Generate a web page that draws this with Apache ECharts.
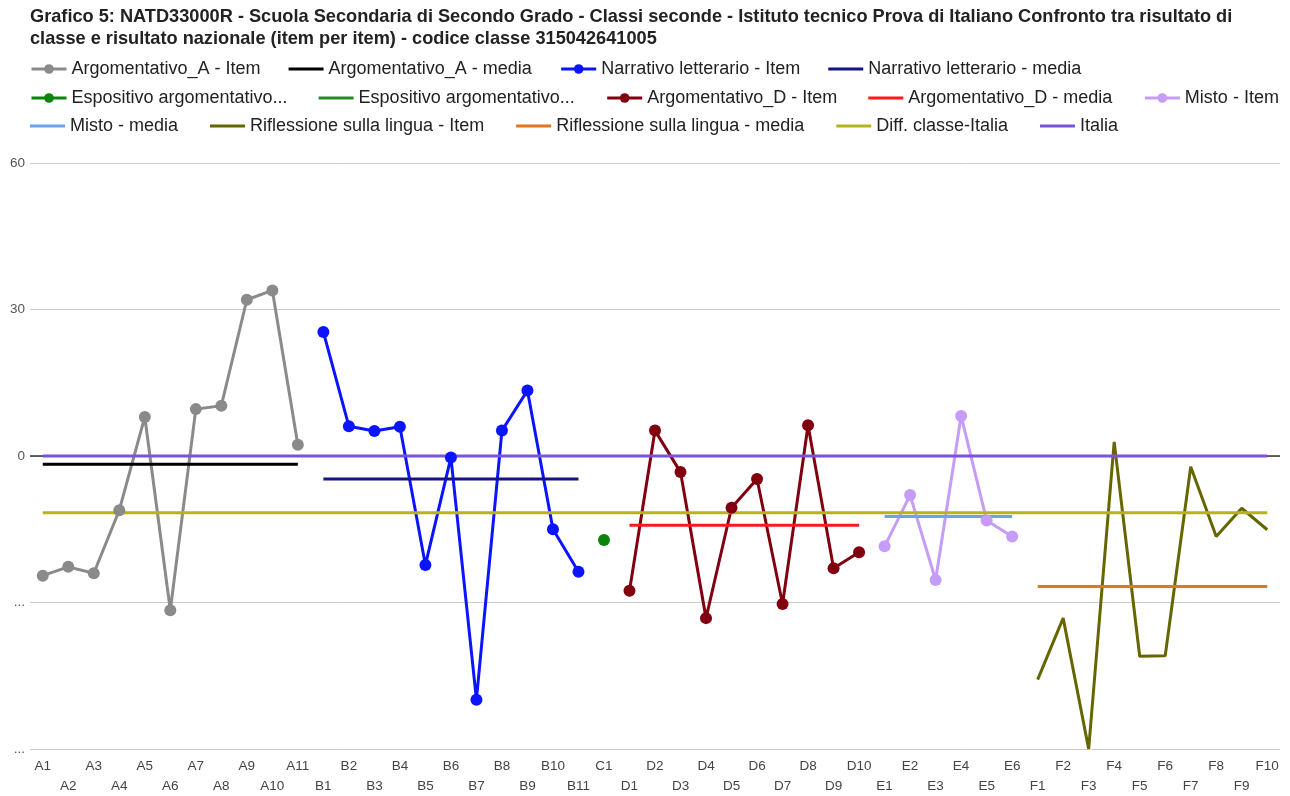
<!DOCTYPE html>
<html>
<head>
<meta charset="utf-8">
<script src="https://cdn.jsdelivr.net/npm/echarts@6/dist/echarts.min.js"></script>
<style>html,body{margin:0;padding:0;background:#fff}#c{width:1290px;height:796px}</style>
</head>
<body>
<div id="c"></div>
<script>
const titleText = 'Grafico 5: NATD33000R - Scuola Secondaria di Secondo Grado - Classi seconde - Istituto tecnico Prova di Italiano Confronto tra risultato di\nclasse e risultato nazionale (item per item) - codice classe 315042641005';

const categories = ['A1','A2','A3','A4','A5','A6','A7','A8','A9','A10','A11',
  'B1','B2','B3','B4','B5','B6','B7','B8','B9','B10','B11',
  'C1',
  'D1','D2','D3','D4','D5','D6','D7','D8','D9','D10',
  'E1','E2','E3','E4','E5','E6',
  'F1','F2','F3','F4','F5','F6','F7','F8','F9','F10'];

const yTicks = [-60, -30, 0, 30, 60];

const argA_item  = [-24.5, -22.7, -24.0, -11.1, 8.0, -31.6, 9.6, 10.3, 32.0, 33.9, 2.3];
const argA_mean  = -1.7;
const narr_item  = [25.4, 6.1, 5.1, 6.0, -22.3, -0.3, -49.9, 5.2, 13.4, -15.0, -23.7];
const narr_mean  = -4.7;
const espo_item  = [-17.2];
const espo_mean  = -17.2;
const argD_item  = [-27.6, 5.2, -3.3, -33.2, -10.6, -4.7, -30.3, 6.3, -23.0, -19.7];
const argD_mean  = -14.2;
const misto_item = [-18.5, -8.0, -25.4, 8.2, -13.2, -16.5];
const misto_mean = -12.4;
const rifl_item  = [-45.8, -33.2, -60.0, 2.9, -41.0, -40.9, -2.2, -16.5, -10.7, -15.1];
const rifl_mean  = -26.7;
const diff_classe_italia = -11.6;
const italia = 0;

const N = categories.length;
function startOf(prefix){ return categories.findIndex(c => c.startsWith(prefix)); }
function place(arr, prefix){
  const out = new Array(N).fill(null);
  const s = startOf(prefix);
  arr.forEach((v,i)=>{ out[s+i] = v; });
  return out;
}
function flat(v, prefix, len){
  const out = new Array(N).fill(null);
  const s = prefix ? startOf(prefix) : 0;
  const l = len == null ? N : len;
  for (let i = 0; i < l; i++) out[s+i] = v;
  return out;
}

const W = 3;
function itemSeries(name, data, color, withSymbol){
  return {
    name, type: 'line', data, color,
    symbol: withSymbol ? 'circle' : 'none', symbolSize: 12, showSymbol: withSymbol,
    lineStyle: { width: W, color }, itemStyle: { color },
    connectNulls: false, animation: false, z: 3
  };
}
function meanSeries(name, data, color){
  return {
    name, type: 'line', data, color, symbol: 'none',
    lineStyle: { width: W, color }, itemStyle: { color },
    animation: false, z: 3
  };
}

const series = [
  {
    name: '__baseline', type: 'line', data: [], z: 1, silent: true,
    markLine: {
      z: 1, silent: true, symbol: 'none', label: { show: false }, animation: false,
      lineStyle: { color: '#333', width: 1.5, type: 'solid' },
      data: [{ yAxis: 0 }]
    }
  },
  itemSeries('Argomentativo_A - Item', place(argA_item,'A'), '#8a8a8a', true),
  meanSeries('Argomentativo_A - media', flat(argA_mean,'A',argA_item.length), '#000000'),
  itemSeries('Narrativo letterario - Item', place(narr_item,'B'), '#0a14ff', true),
  meanSeries('Narrativo letterario - media', flat(narr_mean,'B',narr_item.length), '#141482'),
  itemSeries('Espositivo argomentativo - Item', place(espo_item,'C'), '#0a850a', true),
  meanSeries('Espositivo argomentativo - media', flat(espo_mean,'C',espo_item.length), '#268a26'),
  itemSeries('Argomentativo_D - Item', place(argD_item,'D'), '#800010', true),
  meanSeries('Argomentativo_D - media', flat(argD_mean,'D',argD_item.length), '#ff1a1a'),
  itemSeries('Misto - Item', place(misto_item,'E'), '#c59cf7', true),
  meanSeries('Misto - media', flat(misto_mean,'E',misto_item.length), '#6aa4e8'),
  itemSeries('Riflessione sulla lingua - Item', place(rifl_item,'F'), '#666600', false),
  meanSeries('Riflessione sulla lingua - media', flat(rifl_mean,'F',rifl_item.length), '#e4761e'),
  meanSeries('Diff. classe-Italia', flat(diff_classe_italia), '#b5b51a'),
  meanSeries('Italia', flat(italia), '#7a52dc')
];

const lineIcon = 'path://M0,0L0.01,0M0,4.5L35,4.5L35,7.5L0,7.5ZM35,12L34.99,12';
const lineOnly = new Set(series.filter(s => s.symbol === 'none').map(s => s.name));

const rows = [
  ['Argomentativo_A - Item','Argomentativo_A - media','Narrativo letterario - Item','Narrativo letterario - media'],
  ['Espositivo argomentativo - Item','Espositivo argomentativo - media','Argomentativo_D - Item','Argomentativo_D - media','Misto - Item'],
  ['Misto - media','Riflessione sulla lingua - Item','Riflessione sulla lingua - media','Diff. classe-Italia','Italia']
];
const rowTops = [55, 84, 112];
const rowGaps = [28, 31, 32];
const legends = rows.map((r, i) => ({
  data: r.map(n => lineOnly.has(n) ? { name: n, icon: lineIcon } : { name: n }),
  left: 25, top: rowTops[i], orient: 'horizontal',
  itemWidth: 35, itemHeight: 12, itemGap: rowGaps[i],
  selectedMode: false,
  lineStyle: { width: 3 },
  textStyle: { fontSize: 18, color: '#222', fontFamily: 'Liberation Sans, Arial, sans-serif', lineHeight: 18 },
  formatter: n => n.startsWith('Espositivo') ? 'Espositivo argomentativo...' : n
}));

const chart = echarts.init(document.getElementById('c'), null, { renderer: 'canvas' });
chart.setOption({
  animation: false,
  backgroundColor: '#ffffff',
  title: {
    text: titleText, left: 25, top: 1,
    textStyle: { fontSize: 18.2, fontWeight: 'bold', color: '#222', lineHeight: 22, fontFamily: 'Liberation Sans, Arial, sans-serif' }
  },
  legend: legends,
  grid: { left: 30, right: 10, top: 163, bottom: 46, containLabel: false },
  xAxis: {
    type: 'category', data: categories, boundaryGap: true,
    axisLine: { show: false }, axisTick: { show: false },
    axisLabel: {
      interval: 0, margin: 7, color: '#444', fontSize: 13.5, lineHeight: 20,
      fontFamily: 'Liberation Sans, Arial, sans-serif',
      formatter: (v, i) => (i % 2 === 1 ? '\n' + v : v)
    }
  },
  yAxis: {
    type: 'value', min: yTicks[0], max: yTicks[yTicks.length-1], interval: 30,
    axisLine: { show: false }, axisTick: { show: false },
    splitLine: { lineStyle: { color: '#cccccc', width: 1 } },
    axisLabel: {
      margin: 5, color: '#555', fontSize: 13.5, fontFamily: 'Liberation Sans, Arial, sans-serif',
      formatter: v => (v < 0 ? '...' : String(v))
    }
  },
  series
});
</script>
</body>
</html>
